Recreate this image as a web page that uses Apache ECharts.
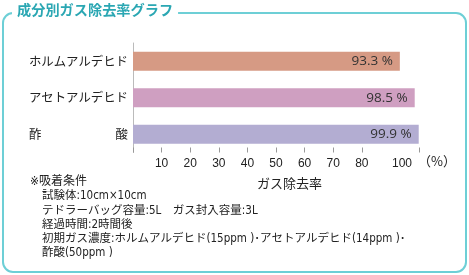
<!DOCTYPE html>
<html>
<head>
<meta charset="utf-8">
<script src="https://cdn.jsdelivr.net/npm/echarts@6/dist/echarts.min.js"></script>
<style>
  html, body { margin: 0; padding: 0; background: #fff; }
  #chart { width: 469px; height: 275px; }
</style>
</head>
<body>
<div id="chart"></div>
<script>
// data
const categories = ["ホルムアルデヒド", "アセトアルデヒド", "酢　　　　　　酸"];
const removalRates = [93.3, 98.5, 99.9];
const barColors = ["#d69a84", "#cf9fc1", "#b3add2"];
const noteHead = "※吸着条件";
const noteLines = [
  "試験体:10cm×10cm",
  "テドラーバッグ容量:5L　ガス封入容量:3L",
  "経過時間:2時間後",
  "初期ガス濃度:ホルムアルデヒド(15ppm )･アセトアルデヒド(14ppm )･",
  "酢酸(50ppm )"
];

const jpFont = '"Noto Sans CJK JP", sans-serif';
const noteFont = '"Liberation Sans Narrow", "DejaVu Sans Condensed", "Noto Sans CJK JP", sans-serif';
const chart = echarts.init(document.getElementById("chart"));

const noteTexts = [
  { type: "text", left: 30, top: 176, style: { text: noteHead, font: "12px " + noteFont, fill: "#222" } }
].concat(noteLines.map((t, i) => ({
  type: "text",
  left: 42,
  top: 190.5 + i * 14.3,
  style: { text: t, font: "11.5px " + noteFont, fill: "#222" }
})));

const option = {
  animation: false,
  title: {
    text: "成分別ガス除去率グラフ",
    left: 12,
    top: 3,
    padding: [0, 5],
    backgroundColor: "#fff",
    textStyle: { color: "#2ba7b3", fontSize: 14.2, fontWeight: "bold", fontFamily: jpFont }
  },
  graphic: [
    {
      type: "rect",
      z: -1,
      shape: { x: 3, y: 13, width: 463, height: 259, r: 10 },
      style: { fill: "#fff", stroke: "#6dcfd6", lineWidth: 2 }
    },
    {
      type: "text",
      left: 418,
      top: 155,
      style: { text: "（%）", font: "13px " + jpFont, fill: "#222" }
    }
  ].concat(noteTexts),
  grid: { left: 133, right: 50, top: 43, height: 109.5 },
  xAxis: {
    type: "value",
    min: 0,
    max: 100,
    interval: 10,
    name: "ガス除去率",
    nameLocation: "middle",
    nameGap: 24,
    nameTextStyle: { color: "#222", fontSize: 13, fontFamily: jpFont, padding: [0, 0, 0, 27] },
    axisLine: { show: false },
    axisTick: { show: true, inside: true, length: 5, lineStyle: { color: "#999" } },
    splitLine: { show: false },
    axisLabel: {
      color: "#222",
      fontSize: 12,
      fontFamily: "Liberation Sans",
      margin: 5,
      showMaxLabel: true,
      hideOverlap: false,
      formatter: function (v) {
        if (v === 0) return "";
        if (v === 100) return "{h|100}";
        return String(v);
      },
      rich: {
        h: { color: "#222", fontSize: 12, fontFamily: "Liberation Sans", padding: [0, 34, 0, 0] }
      }
    }
  },
  yAxis: {
    type: "category",
    data: categories,
    inverse: true,
    axisLine: { show: true, lineStyle: { color: "#bbb" } },
    axisTick: { show: false },
    axisLabel: { color: "#222", fontSize: 12.4, fontFamily: jpFont, margin: 5 }
  },
  series: [
    {
      type: "bar",
      data: removalRates.map((v, i) => ({ value: v, itemStyle: { color: barColors[i] } })),
      barWidth: "52%",
      label: {
        show: true,
        position: "insideRight",
        distance: 7,
        formatter: "{c} %",
        color: "#333",
        fontSize: 13.5,
        fontFamily: "Open Sans"
      }
    }
  ]
};
chart.setOption(option);
</script>
</body>
</html>
